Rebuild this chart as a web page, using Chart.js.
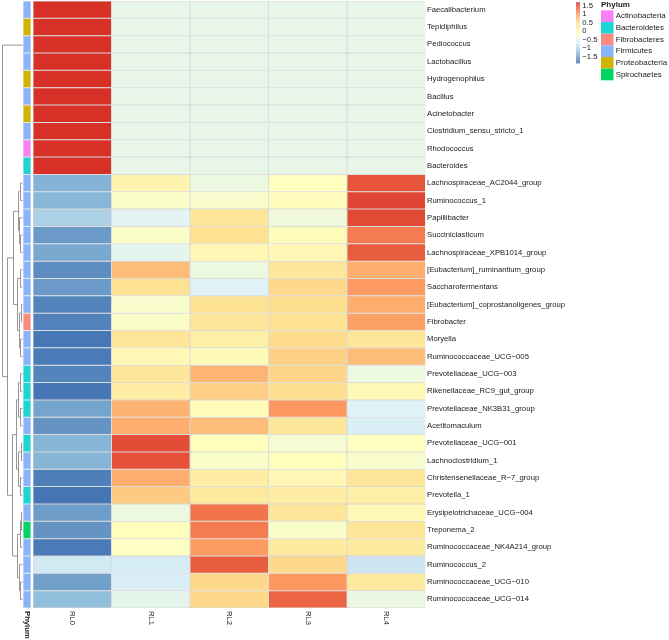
<!DOCTYPE html>
<html>
<head>
<meta charset="utf-8">
<title>Genus heatmap</title>
<script src="https://cdn.jsdelivr.net/npm/chart.js@4.4.1/dist/chart.umd.min.js"></script>
<style>
  html, body { margin: 0; padding: 0; background: #fff; }
  canvas { display: block; }
</style>
</head>
<body>
<canvas id="heatmap" width="669" height="640"></canvas>
<script>
// Rows top to bottom, in the clustering order
const genera = [
  'Faecalibacterium', 'Tepidiphilus', 'Pediococcus', 'Lactobacillus', 'Hydrogenophilus',
  'Bacillus', 'Acinetobacter', 'Clostridium_sensu_stricto_1', 'Rhodococcus', 'Bacteroides',
  'Lachnospiraceae_AC2044_group', 'Ruminococcus_1', 'Papillibacter', 'Succiniclasticum',
  'Lachnospiraceae_XPB1014_group', '[Eubacterium]_ruminantium_group', 'Saccharofermentans',
  '[Eubacterium]_coprostanoligenes_group', 'Fibrobacter', 'Moryella', 'Ruminococcaceae_UCG\u2212005',
  'Prevotellaceae_UCG\u2212003', 'Rikenellaceae_RC9_gut_group', 'Prevotellaceae_NK3B31_group',
  'Acetitomaculum', 'Prevotellaceae_UCG\u2212001', 'Lachnoclostridium_1',
  'Christensenellaceae_R\u22127_group', 'Prevotella_1', 'Erysipelotrichaceae_UCG\u2212004',
  'Treponema_2', 'Ruminococcaceae_NK4A214_group', 'Ruminococcus_2',
  'Ruminococcaceae_UCG\u2212010', 'Ruminococcaceae_UCG\u2212014'
];
const rowPhylum = [
  'Firmicutes', 'Proteobacteria', 'Firmicutes', 'Firmicutes', 'Proteobacteria',
  'Firmicutes', 'Proteobacteria', 'Firmicutes', 'Actinobacteria', 'Bacteroidetes',
  'Firmicutes', 'Firmicutes', 'Firmicutes', 'Firmicutes', 'Firmicutes',
  'Firmicutes', 'Firmicutes', 'Firmicutes', 'Fibrobacteres', 'Firmicutes',
  'Firmicutes', 'Bacteroidetes', 'Bacteroidetes', 'Bacteroidetes', 'Firmicutes',
  'Bacteroidetes', 'Firmicutes', 'Firmicutes', 'Bacteroidetes', 'Firmicutes',
  'Spirochaetes', 'Firmicutes', 'Firmicutes', 'Firmicutes', 'Firmicutes'
];
const samples = ['RL0', 'RL1', 'RL2', 'RL3', 'RL4'];

// row-scaled abundance (z-score), one list per sample
const rl0 = [1.789, 1.789, 1.789, 1.789, 1.789, 1.789, 1.789, 1.789, 1.789, 1.789,
  -1.30, -1.27, -1.00, -1.50, -1.38, -1.60, -1.50, -1.68, -1.70, -1.78, -1.76,
  -1.68, -1.79, -1.42, -1.55, -1.28, -1.28, -1.72, -1.80, -1.48, -1.55, -1.76,
  -0.72, -1.45, -1.20];
const rl1 = [-0.447, -0.447, -0.447, -0.447, -0.447, -0.447, -0.447, -0.447, -0.447, -0.447,
  0.20, -0.10, -0.55, -0.10, -0.50, 0.85, 0.55, -0.15, -0.10, 0.50, 0.15,
  0.45, 0.35, 0.92, 0.95, 1.60, 1.58, 0.95, 0.75, -0.35, 0.02, -0.05,
  -0.68, -0.66, -0.48];
const rl2 = [-0.447, -0.447, -0.447, -0.447, -0.447, -0.447, -0.447, -0.447, -0.447, -0.447,
  -0.35, -0.15, 0.50, 0.55, 0.15, -0.35, -0.60, 0.55, 0.50, 0.30, 0.10,
  0.90, 0.72, 0.05, 0.85, 0.02, -0.12, 0.35, 0.40, 1.35, 1.30, 1.08,
  1.50, 0.65, 0.65];
const rl3 = [-0.447, -0.447, -0.447, -0.447, -0.447, -0.447, -0.447, -0.447, -0.447, -0.447,
  0.00, 0.05, -0.30, 0.05, 0.15, 0.45, 0.65, 0.60, 0.55, 0.62, 0.70,
  0.68, 0.60, 1.12, 0.45, -0.20, 0.02, 0.15, 0.35, 0.50, -0.12, 0.40,
  0.65, 1.12, 1.45];
const rl4 = [-0.447, -0.447, -0.447, -0.447, -0.447, -0.447, -0.447, -0.447, -0.447, -0.447,
  1.55, 1.65, 1.62, 1.30, 1.50, 0.95, 1.10, 0.95, 1.05, 0.50, 0.85,
  -0.35, 0.12, -0.60, -0.65, 0.00, -0.15, 0.50, 0.30, 0.12, 0.50, 0.40,
  -0.75, 0.40, -0.38];
const sampleValues = [rl0, rl1, rl2, rl3, rl4];

const phyla = ['Actinobacteria', 'Bacteroidetes', 'Fibrobacteres', 'Firmicutes', 'Proteobacteria', 'Spirochaetes'];
const phylumColors = ['#FA80F6', '#1CD6D6', '#FC8B7F', '#8AB4F8', '#D2B400', '#00D462'];
const legendTicks = [1.5, 1, 0.5, 0, -0.5, -1, -1.5];

// row dendrogram, hclust style: negative = leaf (1-based row), positive = earlier merge
const mergeLeft = [-1, -4, -6, -8, 4, 3, 2, -3, 1,
  -11, -14, -13, 10, -16, -18, -20, 15, 14, 13,
  -22, -24, 20, -26, -28, 23, 22, -30, 27, -34, -33, 28, 26, 19, 9];
const mergeRight = [-2, -5, -7, -9, -10, 5, 6, 7, 8,
  -12, -15, 11, 12, -17, -19, -21, 16, 17, 18,
  -23, -25, 21, -27, -29, 24, 25, -31, -32, -35, 29, 30, 31, 32, 33];
const mergeHeight = [0, 0, 0, 0, 0, 0, 0, 0, 0,
  2.0, 2.5, 3.5, 4.5, 2.5, 1.5, 2.0, 3.5, 5.0, 9.3,
  2.0, 2.5, 4.0, 1.5, 2.0, 4.0, 6.5, 1.5, 2.5, 2.0, 3.5, 5.5, 10.5, 15.3, 20.3];

const palette = ['#4575B4', '#91BFDB', '#E0F3F8', '#FFFFBF', '#FEE090', '#FC8D59', '#D73027'];
const allValues = sampleValues.flat();
const zMin = Math.min(...allValues);
const zMax = Math.max(...allValues);

function hexToRgb(h) {
  return [1, 3, 5].map(i => parseInt(h.slice(i, i + 2), 16));
}
function heatColor(v) {
  let t = (v - zMin) / (zMax - zMin);
  t = Math.max(0, Math.min(1, t)) * (palette.length - 1);
  const i = Math.min(Math.floor(t), palette.length - 2);
  const f = t - i;
  const a = hexToRgb(palette[i]), b = hexToRgb(palette[i + 1]);
  const c = a.map((x, k) => Math.round(x + (b[k] - x) * f));
  return 'rgb(' + c.join(',') + ')';
}

const font = 'Liberation Sans, Arial, sans-serif';
const colWidthPx = 78.5;
const leftPx = 33;
const xMin = -leftPx / colWidthPx;
const annoFrom = -10 / colWidthPx, annoTo = -2 / colWidthPx;
const dendroEdge = -11 / colWidthPx, dendroSpan = 20.3 / colWidthPx;

const datasets = samples.map((s, c) => ({
  label: s,
  data: sampleValues[c].map(() => [c, c + 1]),
  backgroundColor: sampleValues[c].map(heatColor),
  borderColor: '#b5b5b5',
  borderWidth: 0.5,
  borderSkipped: false,
  inflateAmount: 0,
  grouped: false,
  barPercentage: 1,
  categoryPercentage: 1
}));
datasets.push({
  label: 'Phylum',
  data: genera.map(() => [annoFrom, annoTo]),
  backgroundColor: rowPhylum.map(p => phylumColors[phyla.indexOf(p)]),
  borderColor: 'rgba(150,150,150,0.45)',
  borderWidth: 0.5,
  borderSkipped: false,
  inflateAmount: 0,
  grouped: false,
  barPercentage: 1,
  categoryPercentage: 1
});

const extras = {
  id: 'extras',
  afterDraw(chart) {
    const {ctx, scales: {x, y}} = chart;
    ctx.save();

    // dendrogram
    const nodeY = [], nodeH = [];
    const pos = ref => ref < 0 ? [-ref - 1, 0] : [nodeY[ref - 1], nodeH[ref - 1]];
    const px = h => Math.round(x.getPixelForValue(dendroEdge - h / 20.3 * dendroSpan)) + 0.5;
    ctx.strokeStyle = '#8a8a8a';
    ctx.lineWidth = 0.9;
    ctx.beginPath();
    mergeLeft.forEach((l, i) => {
      const [ya, ha] = pos(l);
      const [yb, hb] = pos(mergeRight[i]);
      const h = mergeHeight[i];
      nodeY.push((ya + yb) / 2);
      nodeH.push(h);
      if (h <= 0) return;
      const pa = y.getPixelForValue(ya), pb = y.getPixelForValue(yb);
      ctx.moveTo(px(ha), pa);
      ctx.lineTo(px(h), pa);
      ctx.lineTo(px(h), pb);
      ctx.lineTo(px(hb), pb);
    });
    ctx.stroke();

    // column labels, rotated
    ctx.fillStyle = '#1a1a1a';
    ctx.textAlign = 'left';
    ctx.textBaseline = 'middle';
    const drawDown = (text, cx, f) => {
      ctx.save();
      ctx.translate(cx, y.bottom + 3);
      ctx.rotate(Math.PI / 2);
      ctx.font = f;
      ctx.fillText(text, 0, 0);
      ctx.restore();
    };
    samples.forEach((s, c) => drawDown(s, x.getPixelForValue(c + 0.5), '7.7px ' + font));
    drawDown('Phylum', x.getPixelForValue((annoFrom + annoTo) / 2), 'bold 7.7px ' + font);

    // colour key
    const barX = 576, barW = 4, barTop = 2.3, barH = 60.4;
    const keyY = v => barTop + (zMax - v) / (zMax - zMin) * barH;
    for (let k = 0; k < barH; k++) {
      ctx.fillStyle = heatColor(zMax - (k + 0.5) / barH * (zMax - zMin));
      ctx.fillRect(barX, barTop + k, barW, 1.05);
    }
    ctx.fillStyle = '#1a1a1a';
    ctx.font = '7.7px ' + font;
    legendTicks.forEach(v => {
      ctx.fillText(String(v).replace('-', '\u2212'), barX + barW + 2.3, keyY(v) - 1.2);
    });

    // phylum key
    ctx.font = 'bold 8px ' + font;
    ctx.fillText('Phylum', 601, 5);
    ctx.font = '7.9px ' + font;
    phyla.forEach((p, i) => {
      const top = 10.3 + i * 11.67;
      ctx.fillStyle = phylumColors[i];
      ctx.fillRect(601, top, 12.5, 11.67);
      ctx.fillStyle = '#1a1a1a';
      ctx.fillText(p, 615.7, top + 6);
    });
    ctx.restore();
  }
};

new Chart(document.getElementById('heatmap'), {
  type: 'bar',
  data: { labels: genera, datasets: datasets },
  options: {
    indexAxis: 'y',
    responsive: false,
    animation: false,
    events: [],
    layout: { padding: { top: 1, bottom: 32, left: 0, right: 0 } },
    plugins: { legend: { display: false }, tooltip: { enabled: false } },
    scales: {
      x: { type: 'linear', display: false, min: xMin, max: samples.length },
      y: {
        position: 'right',
        grid: { display: false, drawTicks: false },
        border: { display: false },
        ticks: {
          autoSkip: false,
          padding: 1.5,
          color: '#1a1a1a',
          font: { family: font, size: 7.7 }
        },
        afterFit(s) {
          s.width = 669 - 425.5;
          s.paddingTop = 0;
          s.paddingBottom = 0;
        }
      }
    }
  },
  plugins: [extras]
});
</script>
</body>
</html>
